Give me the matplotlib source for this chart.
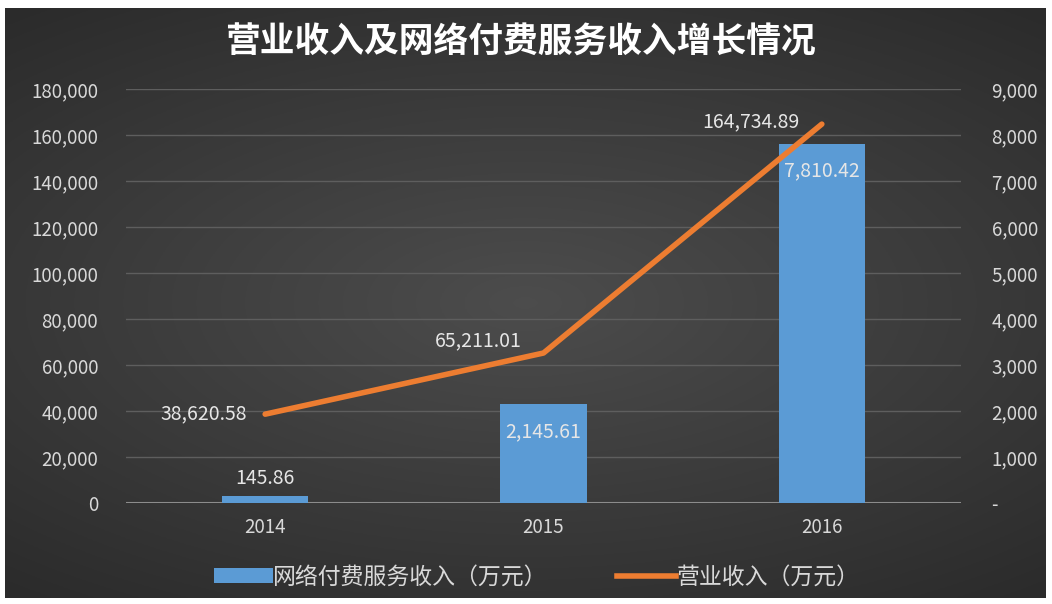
import matplotlib.pyplot as plt
import numpy as np
from matplotlib.ticker import FuncFormatter
from matplotlib.patches import Patch
from matplotlib.lines import Line2D

plt.rcParams['font.family'] = ['Noto Sans CJK SC', 'DejaVu Sans']

years = ["2014", "2015", "2016"]
net_pay = [145.86, 2145.61, 7810.42]          # 网络付费服务收入（万元） - right axis
revenue = [38620.58, 65211.01, 164734.89]     # 营业收入（万元） - left axis

W, H = 1052, 604
fig = plt.figure(figsize=(W / 100, H / 100), dpi=100)
fig.patch.set_facecolor("white")

# dark radial background
bg = fig.add_axes([5 / W, 6 / H, 1041 / W, 590 / H])
yy, xx = np.mgrid[-1:1:300j, -1:1:500j]
r = np.sqrt((xx * 0.9) ** 2 + (yy * 1.1) ** 2)
grad = 0.30 - 0.13 * np.clip(r, 0, 1.4) / 1.4
bg.imshow(np.dstack([grad, grad, grad]), aspect="auto", extent=[0, 1, 0, 1])
bg.set_axis_off()

ax = fig.add_axes([126 / W, 101 / H, 835 / W, 414 / H])
ax.patch.set_alpha(0)
x = np.arange(len(years))

# bars on the right-hand scale
ax.bar(x, net_pay, width=0.31, color="#5b9bd5", zorder=2)
ax.set_ylim(0, 9000)
ax.set_xlim(-0.5, 2.5)
ax.set_yticks(np.arange(0, 9001, 1000))
ax.yaxis.set_major_formatter(FuncFormatter(lambda v, p: "-" if v == 0 else f"{v:,.0f}"))

ax2 = ax.twinx()
ax2.plot(x, revenue, color="#ed7d31", lw=4, solid_capstyle="round", zorder=3)
ax2.set_ylim(0, 180000)
ax2.set_yticks(np.arange(0, 180001, 20000))
ax2.yaxis.set_major_formatter(FuncFormatter(lambda v, p: f"{v:,.0f}"))

# swap sides: bars scale on the right, line scale on the left
ax.yaxis.tick_right()
ax2.yaxis.tick_left()

for a in (ax, ax2):
    for s in a.spines.values():
        s.set_visible(False)
    a.tick_params(length=0, labelsize=13.5, labelcolor="#d9d9d9")
ax.tick_params(axis="y", pad=22)
ax2.tick_params(axis="y", pad=20)
ax.tick_params(axis="x", pad=10)
ax.set_xticks(x)
ax.set_xticklabels(years)

ax.grid(axis="y", color="#5e5e5e", lw=1, zorder=0)
ax.set_axisbelow(True)
ax.axhline(0, color="#8c8c8c", lw=1.5, zorder=1)

lab = dict(color="#e6e6e6", fontsize=14)
# bar labels
ax.annotate(f"{net_pay[0]:,.2f}", (x[0], net_pay[0]), xytext=(0, 5),
            textcoords="offset points", ha="center", va="bottom", **lab)
for i in (1, 2):
    ax.annotate(f"{net_pay[i]:,.2f}", (x[i], net_pay[i]), xytext=(0, -12),
                textcoords="offset points", ha="center", va="top", **lab)
# line labels
ax2.annotate(f"{revenue[0]:,.2f}", (x[0], revenue[0]), xytext=(-13, 0),
             textcoords="offset points", ha="right", va="center", **lab)
ax2.annotate(f"{revenue[1]:,.2f}", (x[1], revenue[1]), xytext=(-16, 9),
             textcoords="offset points", ha="right", va="center", **lab)
ax2.annotate(f"{revenue[2]:,.2f}", (x[2], revenue[2]), xytext=(-16, 2),
             textcoords="offset points", ha="right", va="center", **lab)

fig.text(0.495, 0.93, "营业收入及网络付费服务收入增长情况", ha="center", va="center",
         color="white", fontsize=25, fontweight="bold")

handles = [Patch(facecolor="#5b9bd5"), Line2D([], [], color="#ed7d31", lw=4)]
leg = fig.legend(handles, ["网络付费服务收入（万元）", "营业收入（万元）"],
                 loc="center", bbox_to_anchor=(0.51, 0.045), ncol=2, frameon=False,
                 fontsize=16.5, handlelength=2.6, handleheight=0.6,
                 handletextpad=0.0, columnspacing=3.0)
for t in leg.get_texts():
    t.set_color("#d9d9d9")

fig.savefig("out.png", dpi=100)
